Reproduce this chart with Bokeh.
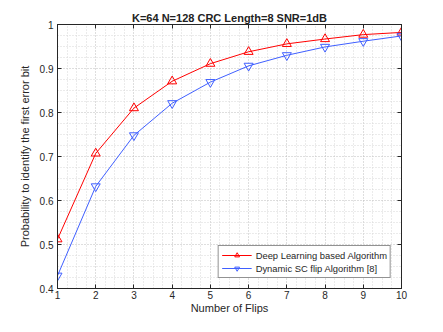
from bokeh.plotting import figure
from bokeh.models import FixedTicker, LinearAxis, Range1d, Legend, LegendItem
from bokeh.embed import file_html
from bokeh.resources import INLINE
import numpy as np

flips = [1, 2, 3, 4, 5, 6, 7, 8, 9, 10]
deep_learning = [0.512, 0.707, 0.810, 0.871, 0.911, 0.938, 0.956, 0.967, 0.977, 0.982]
dynamic_scflip = [0.429, 0.632, 0.748, 0.821, 0.869, 0.906, 0.930, 0.949, 0.962, 0.974]
x_ticks = [1, 2, 3, 4, 5, 6, 7, 8, 9, 10]
y_ticks = [0.4, 0.5, 0.6, 0.7, 0.8, 0.9, 1.0]
y_tick_labels = {0.4: "0.4", 0.5: "0.5", 0.6: "0.6", 0.7: "0.7", 0.8: "0.8", 0.9: "0.9", 1.0: "1"}
title_text = "K=64 N=128 CRC Length=8 SNR=1dB"
x_label = "Number of Flips"
y_label = "Probability to identify the first error bit"
names = ["Deep Learning based Algorithm", "Dynamic SC flip Algorithm [8]"]

FONT = "Liberation Sans"
red = "#ff0000"
blue = "#3f5fff"

x_minor = [v for v in np.arange(1, 10.001, 0.25) if abs(v - round(v)) > 1e-6]
y_minor = [v for v in np.arange(0.4, 1.0001, 0.025) if abs(v * 10 - round(v * 10)) > 1e-6]

p = figure(width=427, height=316, output_backend="svg", toolbar_location=None,
           x_range=Range1d(1, 10), y_range=Range1d(0.4, 1.0),
           min_border_left=57, min_border_right=26, min_border_top=24, min_border_bottom=24,
           title=title_text)
p.title.align = "center"
p.title.text_font = FONT
p.title.text_font_size = "11px"
p.title.text_font_style = "bold"
p.title.text_color = "#222222"
p.title.standoff = 2
p.title.offset = 0

p.background_fill_color = "white"
p.border_fill_color = "white"
p.outline_line_color = "#262626"
p.outline_line_width = 1

xt = FixedTicker(ticks=x_ticks, minor_ticks=x_minor)
yt = FixedTicker(ticks=y_ticks, minor_ticks=y_minor)

p.xaxis.ticker = xt
p.yaxis.ticker = yt
p.yaxis.major_label_overrides = y_tick_labels

for ax in [p.xaxis[0], p.yaxis[0]]:
    ax.major_tick_in = 4
    ax.major_tick_out = 0
    ax.minor_tick_in = 0
    ax.minor_tick_out = 0
    ax.axis_line_color = "#262626"
    ax.major_tick_line_color = "#262626"
    ax.major_label_text_font = FONT
    ax.major_label_text_font_size = "10px"
    ax.major_label_text_color = "#262626"
    ax.axis_label_text_font = FONT
    ax.axis_label_text_font_size = "11px"
    ax.axis_label_text_font_style = "normal"
    ax.axis_label_text_color = "#262626"

p.xaxis.axis_label = x_label
p.yaxis.axis_label = y_label
p.xaxis.major_label_standoff = 2
p.xaxis.axis_label_standoff = 0
p.yaxis.major_label_standoff = 4
p.yaxis.axis_label_standoff = 6

top = LinearAxis(ticker=xt, major_label_text_font_size="0px", major_tick_in=4, major_tick_out=0,
                 minor_tick_in=0, minor_tick_out=0, axis_line_color="#262626",
                 major_tick_line_color="#262626")
right = LinearAxis(ticker=yt, major_label_text_font_size="0px", major_tick_in=4, major_tick_out=0,
                   minor_tick_in=0, minor_tick_out=0, axis_line_color="#262626",
                   major_tick_line_color="#262626")
top.major_label_text_alpha = 0
right.major_label_text_alpha = 0
top.major_label_standoff = 0
right.major_label_standoff = 0
p.add_layout(top, "above")
p.add_layout(right, "right")

for g in [p.xgrid[0], p.ygrid[0]]:
    g.grid_line_color = "#bdbdbd"
    g.grid_line_dash = "1 2"
    g.grid_line_width = 1
    g.minor_grid_line_color = "#d6d6d6"
    g.minor_grid_line_dash = "1 2"
    g.minor_grid_line_width = 1

l1 = p.line(flips, deep_learning, line_color=red, line_width=1)
m1 = p.scatter(flips, deep_learning, marker="triangle", size=9, fill_color=None,
               line_color=red, line_width=1)
l2 = p.line(flips, dynamic_scflip, line_color=blue, line_width=1)
m2 = p.scatter(flips, dynamic_scflip, marker="inverted_triangle", size=9, fill_color=None,
               line_color=blue, line_width=1)

legend = Legend(items=[LegendItem(label=names[0], renderers=[l1, m1]),
                       LegendItem(label=names[1], renderers=[l2, m2])],
                location="bottom_right")
legend.label_text_font = FONT
legend.label_text_font_size = "9.4px"
legend.label_text_color = "#262626"
legend.border_line_color = "#262626"
legend.border_line_width = 1
legend.background_fill_color = "white"
legend.glyph_width = 30
legend.glyph_height = 12
legend.label_height = 12
legend.spacing = 1
legend.padding = 3
legend.margin = 10
legend.label_standoff = 4
p.add_layout(legend)

open("out.html", "w").write(file_html(p, INLINE))
